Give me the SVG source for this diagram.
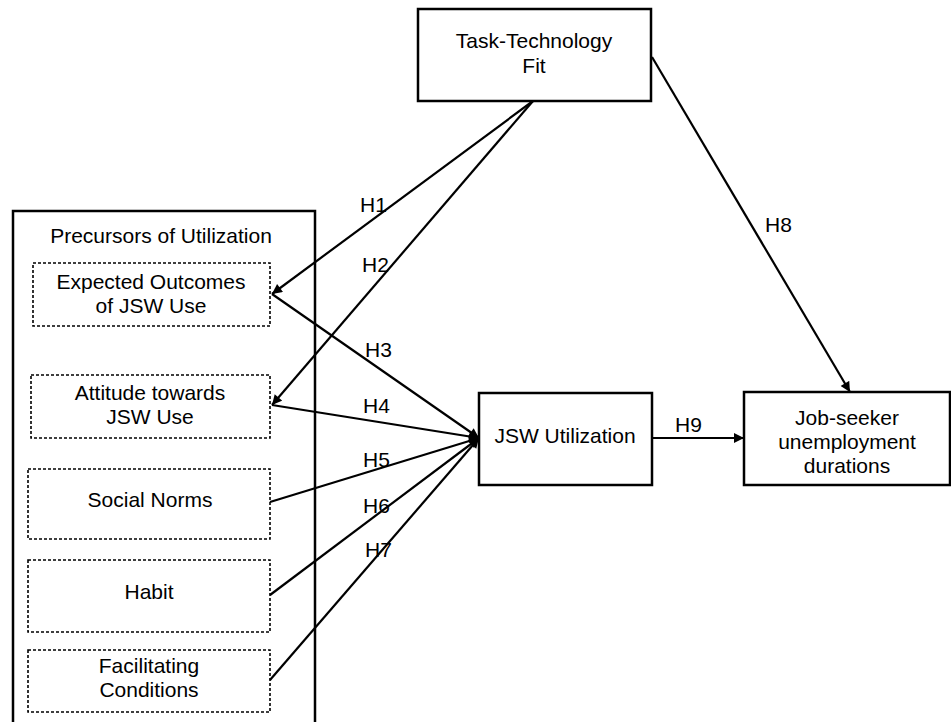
<svg xmlns="http://www.w3.org/2000/svg" width="951" height="722" viewBox="0 0 951 722">
<defs>
<marker id="arrB" viewBox="0 0 10 10" refX="10" refY="5" markerWidth="11" markerHeight="10" markerUnits="userSpaceOnUse" orient="auto">
<path d="M0,0 L10,5 L0,10 Z" fill="#000"/>
</marker>
</defs>
<style>
text{font-family:"Liberation Sans","Noto Sans",sans-serif;font-size:21px;fill:#000;text-anchor:middle}
.lbl{text-anchor:start;font-size:21px}
.solid{fill:#fff;stroke:#000;stroke-width:2.5}
.dash{fill:#fff;stroke:#000;stroke-width:1.6;stroke-dasharray:3,2}
.c{stroke:#000;stroke-width:2.2;fill:none}
</style>
<rect width="951" height="722" fill="#fff"/>
<g id="precursors">
<rect class="solid" x="13" y="211" width="302" height="530"/>
<text x="161" y="243">Precursors of Utilization</text>
</g>
<g id="expected">
<rect class="dash" x="33" y="263" width="237" height="63"/>
<text x="151" y="289">Expected Outcomes</text>
<text x="151" y="313">of JSW Use</text>
</g>
<g id="attitude">
<rect class="dash" x="31" y="375" width="239" height="63"/>
<text x="150" y="400">Attitude towards</text>
<text x="150" y="424">JSW Use</text>
</g>
<g id="social">
<rect class="dash" x="28" y="469" width="242" height="70"/>
<text x="150" y="507">Social Norms</text>
</g>
<g id="habit">
<rect class="dash" x="28" y="560" width="242" height="72"/>
<text x="149" y="599">Habit</text>
</g>
<g id="facilitating">
<rect class="dash" x="28" y="650" width="242" height="62"/>
<text x="149" y="673">Facilitating</text>
<text x="149" y="697">Conditions</text>
</g>
<g id="ttf">
<rect class="solid" x="418" y="9" width="233" height="92"/>
<text x="534" y="48">Task-Technology</text>
<text x="534" y="73">Fit</text>
</g>
<g id="jsw">
<rect class="solid" x="479" y="393" width="173" height="92"/>
<text x="565" y="443">JSW Utilization</text>
</g>
<g id="jobseeker">
<rect class="solid" x="744" y="392" width="206" height="93"/>
<text x="847" y="425">Job-seeker</text>
<text x="847" y="449">unemployment</text>
<text x="847" y="473">durations</text>
</g>
<g id="connectors">
<line class="c" x1="533" y1="101" x2="272" y2="294" marker-end="url(#arrB)"/>
<line class="c" x1="533" y1="101" x2="272" y2="405" marker-end="url(#arrB)"/>
<line class="c" x1="272" y1="294" x2="479" y2="438" marker-end="url(#arrB)"/>
<line class="c" x1="272" y1="405" x2="479" y2="438" marker-end="url(#arrB)"/>
<line class="c" x1="270" y1="502" x2="479" y2="438" marker-end="url(#arrB)"/>
<line class="c" x1="270" y1="595" x2="479" y2="438" marker-end="url(#arrB)"/>
<line class="c" x1="270" y1="680" x2="479" y2="438" marker-end="url(#arrB)"/>
<line class="c" x1="652" y1="57" x2="850" y2="392" marker-end="url(#arrB)"/>
<line class="c" x1="652" y1="438" x2="744" y2="438" marker-end="url(#arrB)"/>
</g>
<g id="labels">
<text class="lbl" x="360" y="212">H1</text>
<text class="lbl" x="362" y="272">H2</text>
<text class="lbl" x="365" y="357">H3</text>
<text class="lbl" x="363" y="413">H4</text>
<text class="lbl" x="363" y="467">H5</text>
<text class="lbl" x="363" y="513">H6</text>
<text class="lbl" x="365" y="557">H7</text>
<text class="lbl" x="765" y="232">H8</text>
<text class="lbl" x="675" y="432">H9</text>
</g>
</svg>
